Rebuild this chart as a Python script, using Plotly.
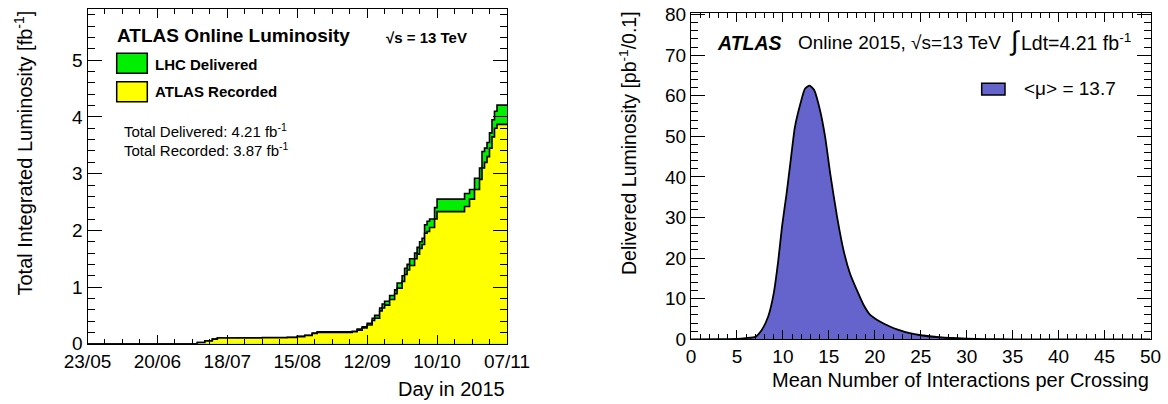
import plotly.graph_objects as go
import pandas as pd

W, H = 1168, 404

# ---------------- Left panel data (cumulative luminosity, fb^-1) ----------------
start_date = "2015-05-23"
days = [0, 40, 44, 47, 50, 52, 60, 70, 80, 84, 87, 90, 92, 106, 108, 110, 112, 114, 115,
        117, 118, 119, 121, 123, 124, 126, 127, 128, 129, 131, 132, 133, 134, 135, 136,
        137, 139, 140, 150, 151, 153, 155, 157, 158, 159, 160, 161, 162, 163, 164, 168]
delivered = [0, 0, 0.02, 0.05, 0.08, 0.10, 0.105, 0.11, 0.115, 0.13, 0.15, 0.19, 0.21,
             0.22, 0.26, 0.30, 0.36, 0.45, 0.50, 0.63, 0.70, 0.75, 0.85, 0.95, 1.07, 1.20,
             1.33, 1.40, 1.50, 1.60, 1.70, 1.80, 1.86, 2.10, 2.16, 2.20, 2.40, 2.55, 2.55,
             2.65, 2.72, 2.92, 3.10, 3.39, 3.45, 3.55, 3.72, 3.95, 4.10, 4.21, 4.21]
recorded = [0, 0, 0.02, 0.05, 0.08, 0.10, 0.102, 0.105, 0.11, 0.125, 0.145, 0.18, 0.20,
            0.21, 0.24, 0.28, 0.33, 0.41, 0.45, 0.58, 0.63, 0.68, 0.78, 0.88, 0.98, 1.10,
            1.22, 1.30, 1.38, 1.50, 1.58, 1.68, 1.75, 1.95, 1.98, 2.05, 2.20, 2.33, 2.33,
            2.42, 2.55, 2.72, 2.90, 3.10, 3.20, 3.30, 3.45, 3.65, 3.80, 3.87, 3.87]

# ---------------- Right panel data (pile-up distribution, pb^-1 / 0.1) ----------------
mu = [0, 3, 5, 6, 7, 7.7, 8.4, 9.0, 9.5, 9.9, 10.4, 10.8, 11.3, 11.9, 12.4, 12.9, 13.4,
      14.05, 14.6, 15.15, 15.9, 16.6, 17.3, 18.05, 18.8, 19.5, 20.6, 21.7, 22.5, 23.8,
      25, 27, 30, 32, 35, 50]
lumi = [0, 0.05, 0.1, 0.3, 0.6, 2.3, 5.6, 11.3, 19.5, 27.7, 35.9, 43.2, 52.2, 58.0, 61.7,
        62.5, 61.4, 56.3, 49.8, 40.8, 30.1, 21.9, 16.2, 12.1, 8.4, 6.0, 4.3, 3.1, 2.4, 1.5,
        1.0, 0.5, 0.15, 0.05, 0, 0]

GREEN = "rgb(0,238,0)"
YELLOW = "rgb(255,255,0)"
BLUE = "rgb(100,100,204)"
FONT = "Liberation Sans, Arial, Helvetica, sans-serif"

dates = pd.Timestamp(start_date) + pd.to_timedelta(days, unit="D")

fig = go.Figure()
fig.add_trace(go.Scatter(x=dates, y=delivered, mode="lines", line=dict(color="black", width=1.6, shape="hv"),
                         fill="tozeroy", fillcolor=GREEN, xaxis="x", yaxis="y", showlegend=False))
fig.add_trace(go.Scatter(x=dates, y=recorded, mode="lines", line=dict(color="black", width=1.6, shape="hv"),
                         fill="tozeroy", fillcolor=YELLOW, xaxis="x", yaxis="y", showlegend=False))
fig.add_trace(go.Scatter(x=mu, y=lumi, mode="lines", line=dict(color="black", width=1.8, shape="spline", smoothing=0.5),
                         fill="tozeroy", fillcolor=BLUE, xaxis="x2", yaxis="y2", showlegend=False))


def px(x):
    return x / W


def py(y):
    return 1 - y / H


DAY = 86400000
axis_common = dict(showline=True, linecolor="black", linewidth=1, mirror="ticks", ticks="inside",
                   tickcolor="black", tickwidth=1, showgrid=False, zeroline=False, automargin=False,
                   tickfont=dict(family=FONT, size=19, color="black"))

fig.update_layout(
    template="none",
    width=W, height=H, margin=dict(l=0, r=0, t=0, b=0, pad=0), autosize=False,
    paper_bgcolor="white", plot_bgcolor="white",
    xaxis=dict(domain=[px(87.5), px(507)], type="date",
               range=["2015-05-23", "2015-11-07 00:10"],
               tick0="2015-05-23", dtick=28 * DAY, tickformat="%d/%m", ticklen=9,
               minor=dict(dtick=7 * DAY, tick0="2015-05-23", ticklen=5, ticks="inside", tickcolor="black", showgrid=False),
               anchor="y", **axis_common),
    yaxis=dict(domain=[py(343.7), py(9.3)], range=[0, 5.9], dtick=1, tick0=0, ticklen=14,
               minor=dict(dtick=0.2, ticklen=7, ticks="inside", tickcolor="black", showgrid=False),
               anchor="x", **axis_common),
    xaxis2=dict(domain=[px(691), px(1150.5)], range=[-0.001, 50.001], dtick=5, tick0=0, ticklen=9,
                minor=dict(dtick=1, ticklen=5, ticks="inside", tickcolor="black", showgrid=False),
                anchor="y2", **axis_common),
    yaxis2=dict(domain=[py(339.3), py(13.3)], range=[0, 80.3], dtick=10, tick0=0, ticklen=14,
                minor=dict(dtick=2, ticklen=7, ticks="inside", tickcolor="black", showgrid=False),
                anchor="x2", **axis_common),
)

ann = []


def text(x, y, s, size, xanchor="left", yanchor="middle", bold=False, italic=False, angle=0):
    if bold:
        s = "<b>" + s + "</b>"
    if italic:
        s = "<i>" + s + "</i>"
    ann.append(dict(x=px(x), y=py(y), xref="paper", yref="paper", text=s, showarrow=False,
                    xanchor=xanchor, yanchor=yanchor, textangle=angle,
                    font=dict(family=FONT, size=size, color="black")))


# axis titles
text(23, 9, "Total Integrated Luminosity [fb<sup>-1</sup>]", 20, xanchor="center", yanchor="top", angle=-90)
text(507, 389, "Day in 2015", 20, xanchor="right")
text(628, 9, "Delivered Luminosity [pb<sup>-1</sup>/0.1]", 19.5, xanchor="center", yanchor="top", angle=-90)
text(1150.5, 380, "Mean Number of Interactions per Crossing", 20, xanchor="right")

# left panel labels
text(115, 36, "ATLAS Online Luminosity", 19, bold=True)
text(384, 38, "√s = 13 TeV", 15, bold=True)
text(153, 64, "LHC Delivered", 15, bold=True)
text(153, 92, "ATLAS Recorded", 15, bold=True)
text(122, 130, "Total Delivered: 4.21 fb<sup>-1</sup>", 15)
text(122, 149, "Total Recorded: 3.87 fb<sup>-1</sup>", 15)

# right panel labels
text(715, 43, "ATLAS", 19.5, bold=True, italic=True)
text(796, 43, "Online 2015, √s=13 TeV", 19)
text(1007, 41, "∫", 27)
text(1019, 42, "Ldt=4.21 fb<sup>-1</sup>", 19.5)
text(1022, 89, "&lt;μ&gt; = 13.7", 19)

fig.update_layout(annotations=ann)

# legend boxes
shapes = [
    dict(type="rect", xref="paper", yref="paper", x0=px(116.7), x1=px(147.3), y0=py(73.3), y1=py(53.3),
         fillcolor=GREEN, line=dict(color="black", width=1.5)),
    dict(type="rect", xref="paper", yref="paper", x0=px(116.7), x1=px(147.3), y0=py(101.7), y1=py(81.7),
         fillcolor=YELLOW, line=dict(color="black", width=1.5)),
    dict(type="rect", xref="paper", yref="paper", x0=px(981.7), x1=px(1005), y0=py(95), y1=py(83.3),
         fillcolor=BLUE, line=dict(color="black", width=1.5)),
]
fig.update_layout(shapes=shapes)

fig.write_html("out.html")
